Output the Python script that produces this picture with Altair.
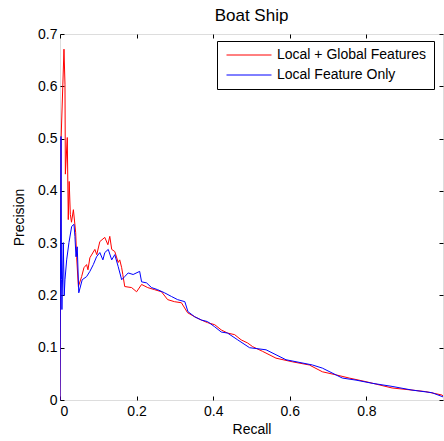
import altair as alt
import pandas as pd

# Local + Global Features (red)
red_recall = [0.0, 0.003, 0.0104, 0.013, 0.014, 0.019, 0.0216, 0.024, 0.027, 0.030,
              0.035, 0.041, 0.0435, 0.048, 0.0565, 0.0625, 0.0695, 0.073, 0.078, 0.091,
              0.096, 0.104, 0.117, 0.125, 0.130, 0.135, 0.143, 0.152, 0.156, 0.161,
              0.164, 0.169, 0.187, 0.200, 0.213, 0.229, 0.247, 0.265, 0.281, 0.299,
              0.317, 0.333, 0.352, 0.369, 0.385, 0.404, 0.421, 0.4375, 0.456, 0.473,
              0.490, 0.503, 0.529, 0.564, 0.607, 0.651, 0.685, 0.721, 0.755, 0.799,
              0.833, 0.867, 0.919, 0.955, 0.997, 1.0]
red_precision = [0.0, 0.502, 0.671, 0.604, 0.432, 0.502, 0.345, 0.418, 0.355, 0.340,
                 0.364, 0.320, 0.272, 0.217, 0.236, 0.253, 0.259, 0.249, 0.272, 0.288,
                 0.278, 0.303, 0.311, 0.297, 0.313, 0.288, 0.284, 0.263, 0.268, 0.253,
                 0.240, 0.217, 0.215, 0.207, 0.221, 0.215, 0.211, 0.207, 0.192, 0.188,
                 0.186, 0.167, 0.159, 0.153, 0.148, 0.144, 0.134, 0.128, 0.125, 0.115,
                 0.109, 0.102, 0.093, 0.080, 0.073, 0.067, 0.054, 0.048, 0.042, 0.035,
                 0.029, 0.023, 0.019, 0.016, 0.0096, 0.008]

# Local Feature Only (blue)
blue_recall = [0.0, 0.0026, 0.004, 0.005, 0.0086, 0.011, 0.013, 0.0174, 0.0234, 0.0305,
               0.0365, 0.039, 0.0417, 0.045, 0.049, 0.058, 0.0695, 0.078, 0.087, 0.0955,
               0.104, 0.112, 0.117, 0.126, 0.135, 0.143, 0.152, 0.161, 0.169, 0.178,
               0.191, 0.208, 0.213, 0.226, 0.239, 0.255, 0.273, 0.291, 0.307, 0.326,
               0.334, 0.352, 0.369, 0.385, 0.404, 0.421, 0.4375, 0.464, 0.495, 0.538,
               0.590, 0.659, 0.685, 0.737, 0.773, 0.815, 0.867, 0.919, 0.971, 1.0]
blue_precision = [0.0, 0.504, 0.230, 0.173, 0.301, 0.200, 0.230, 0.268, 0.301, 0.332,
                  0.336, 0.313, 0.274, 0.293, 0.205, 0.230, 0.236, 0.246, 0.259, 0.274,
                  0.282, 0.268, 0.282, 0.288, 0.268, 0.278, 0.255, 0.230, 0.236, 0.243,
                  0.240, 0.246, 0.226, 0.224, 0.215, 0.211, 0.205, 0.198, 0.192, 0.188,
                  0.169, 0.159, 0.153, 0.150, 0.140, 0.130, 0.128, 0.115, 0.100, 0.096,
                  0.077, 0.067, 0.061, 0.042, 0.038, 0.032, 0.026, 0.019, 0.014, 0.006]

series_names = ["Local + Global Features", "Local Feature Only"]
series_colors = ["#ff0000", "#0000ff"]
x_ticks = [0, 0.2, 0.4, 0.6, 0.8]
y_ticks = [0, 0.1, 0.2, 0.3, 0.4, 0.5, 0.6, 0.7]

red_df = pd.DataFrame({"recall": red_recall, "precision": red_precision,
                       "series": series_names[0], "order": range(len(red_recall))})
blue_df = pd.DataFrame({"recall": blue_recall, "precision": blue_precision,
                        "series": series_names[1], "order": range(len(blue_recall))})

FONT = "Liberation Sans"
label_expr = "datum.value == 0 ? '0' : format(datum.value, '.1f')"

color = alt.Color(
    "series:N",
    scale=alt.Scale(domain=series_names, range=series_colors),
    legend=alt.Legend(
        title=None, orient="none", legendX=157, legendY=7,
        symbolType="M-4.5,0H4.5", symbolSize=100, symbolStrokeWidth=1,
        symbolOffset=18,
        labelFont=FONT, labelFontSize=14, labelColor="black",
        strokeColor="black", fillColor="white", padding=7,
        rowPadding=6, labelOffset=21, labelLimit=300,
    ),
)

xscale = alt.Scale(domain=[0, 1], nice=False, zero=False)
yscale = alt.Scale(domain=[0, 0.7], nice=False, zero=False)

common_axis = dict(domain=False, grid=False, tickSize=4, offset=-4, tickColor="black",
                   labelFont=FONT, labelFontSize=14, labelColor="black",
                   titleFont=FONT, titleFontSize=14, titleColor="black",
                   titleFontWeight="normal")

red = alt.Chart(red_df).mark_line(strokeWidth=1, clip=True).encode(
    x=alt.X("recall:Q", scale=xscale,
            axis=alt.Axis(orient="bottom", values=x_ticks, labelExpr=label_expr,
                          title="Recall", labelPadding=4, titlePadding=4, **common_axis)),
    y=alt.Y("precision:Q", scale=yscale,
            axis=alt.Axis(orient="left", values=y_ticks, labelExpr=label_expr,
                          title="Precision", labelPadding=3, titlePadding=11, **common_axis)),
    color=color,
    order="order:Q",
)

blue = alt.Chart(blue_df).mark_line(strokeWidth=1, clip=True).encode(
    x=alt.X("recall:Q", scale=xscale,
            axis=alt.Axis(orient="top", values=x_ticks, labels=False, title=None,
                          domain=False, grid=False, tickSize=4, offset=-4, tickColor="black")),
    y=alt.Y("precision:Q", scale=yscale,
            axis=alt.Axis(orient="right", values=y_ticks, labels=False, title=None,
                          domain=False, grid=False, tickSize=4, offset=-4, tickColor="black")),
    color=color,
    order="order:Q",
)

chart = alt.layer(red, blue).resolve_axis(x="independent", y="independent").properties(
    width=383, height=366,
    title=alt.TitleParams("Boat Ship", font=FONT, fontSize=17, fontWeight="normal",
                          color="black", anchor="middle", offset=2),
    autosize=alt.AutoSizeParams(type="none"),
    padding={"left": 60, "top": 34, "right": 1, "bottom": 41},
).configure_view(stroke="black", strokeWidth=1).configure(background="white")

chart.save("out.html", embed_options={"renderer": "svg", "actions": False})
